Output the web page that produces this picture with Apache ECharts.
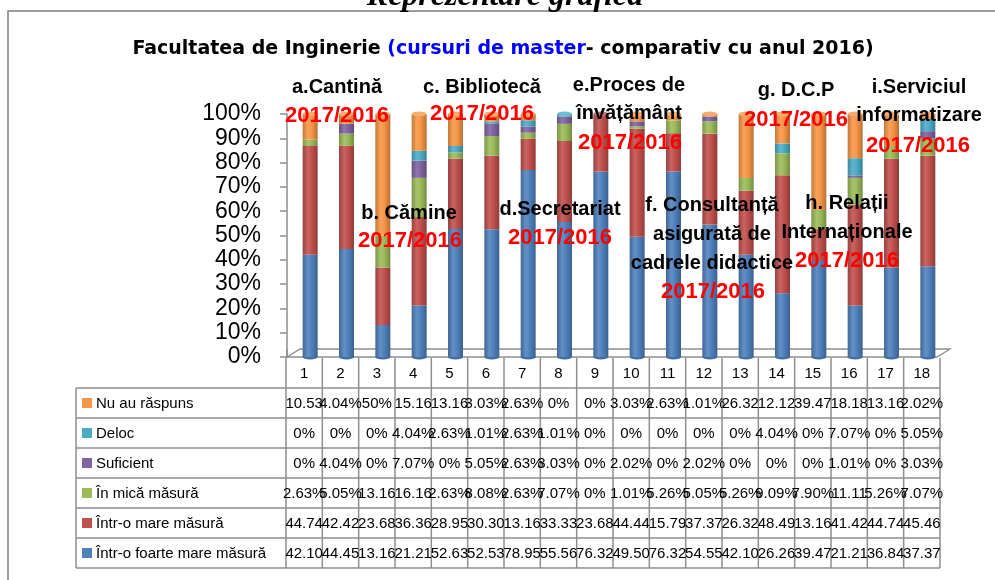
<!DOCTYPE html>
<html><head><meta charset="utf-8">
<script src="https://cdn.jsdelivr.net/npm/echarts@6/dist/echarts.min.js"></script>
<style>html,body{margin:0;padding:0;background:#fff}#c{width:995px;height:580px}</style>
</head><body><div id="c"></div>
<script>
// ---------- data ----------
const categories = ['1','2','3','4','5','6','7','8','9','10','11','12','13','14','15','16','17','18'];
const seriesNames = ['Într-o foarte mare măsură','Într-o mare măsură','În mică măsură','Suficient','Deloc','Nu au răspuns'];
const foarteMare = [42.10,44.45,13.16,21.21,52.63,52.53,78.95,55.56,76.32,49.50,76.32,54.55,42.10,26.26,39.47,21.21,36.84,37.37];
const mare       = [44.74,42.42,23.68,36.36,28.95,30.30,13.16,33.33,23.68,44.44,15.79,37.37,26.32,48.49,13.16,41.42,44.74,45.46];
const mica       = [2.63,5.05,13.16,16.16,2.63,8.08,2.63,7.07,0,1.01,5.26,5.05,5.26,9.09,7.90,11.11,5.26,7.07];
const suficient  = [0,4.04,0,7.07,0,5.05,2.63,3.03,0,2.02,0,2.02,0,0,0,1.01,0,3.03];
const deloc      = [0,0,0,4.04,2.63,1.01,2.63,1.01,0,0,0,0,0,4.04,0,7.07,0,5.05];
const nuAu       = [10.53,4.04,50,15.16,13.16,3.03,2.63,0,0,3.03,2.63,1.01,26.32,12.12,39.47,18.18,13.16,2.02];
const colors = ['#4F81BD','#C0504D','#9BBB59','#8064A2','#4BACC6','#F79646'];
const titleParts = ['Facultatea de Inginerie ','(cursuri de master','- comparativ cu anul 2016)'];
const topHeading = 'Reprezentare grafică';
const annotations = [
  {lines:['a.Cantină'], x:337, y:87, red:{x:337,y:116}},
  {lines:['b. Cămine'], x:409, y:213, red:{x:410,y:241}},
  {lines:['c. Bibliotecă'], x:482, y:87, red:{x:482,y:114}},
  {lines:['d.Secretariat'], x:560, y:209, red:{x:560,y:238}},
  {lines:['e.Proces de','învățământ'], x:629, y:85, step:28.5, red:{x:630,y:143}},
  {lines:['f. Consultanță','asigurată de','cadrele didactice'], x:712, y:205, step:29, red:{x:713,y:292}},
  {lines:['g. D.C.P'], x:796, y:90, red:{x:796,y:120}},
  {lines:['h. Relații','Internaționale'], x:847, y:203, step:29, red:{x:847,y:261}},
  {lines:['i.Serviciul','informatizare'], x:919, y:87, step:28, red:{x:918,y:146}}
];
const redLabel = '2017/2016';
// ---------------------------

const raw = [foarteMare, mare, mica, suficient, deloc, nuAu];
const sums = categories.map((c,i)=>raw.reduce((s,a)=>s+a[i],0));
const norm = raw.map(a=>a.map((v,i)=>v/sums[i]*100));

function shade(hex,f){
  let r=parseInt(hex.substr(1,2),16),g=parseInt(hex.substr(3,2),16),b=parseInt(hex.substr(5,2),16);
  if(f<0){r*=1+f;g*=1+f;b*=1+f;}else{r+=(255-r)*f;g+=(255-g)*f;b+=(255-b)*f;}
  return 'rgb('+Math.round(r)+','+Math.round(g)+','+Math.round(b)+')';
}
function cyl(c){
  return {type:'linear',x:0,y:0,x2:1,y2:0,colorStops:[
    {offset:0,color:shade(c,-0.2)},{offset:0.35,color:shade(c,0.12)},
    {offset:0.6,color:c},{offset:1,color:shade(c,-0.25)}]};
}
const FONT='"Liberation Sans", Arial, sans-serif';

const series = norm.map((d,k)=>({
  name:seriesNames[k], type:'bar', stack:'s', barWidth:15, data:d,
  itemStyle:{color:cyl(colors[k])}, silent:true
}));
const topColor = categories.map((c,i)=>{
  let k=5; while(k>0 && raw[k][i]===0) k--; return colors[k];
});
series.push({type:'pictorialBar', symbol:'circle', symbolSize:[15,5], symbolPosition:'end',
  symbolOffset:[0,'-50%'], barGap:'-100%', z:5, silent:true,
  data:categories.map((c,i)=>({value:100,itemStyle:{color:shade(topColor[i],0.2)}}))});
series.push({type:'pictorialBar', symbol:'circle', symbolSize:[15,5], symbolPosition:'start',
  symbolOffset:[0,'50%'], barGap:'-100%', z:1, silent:true,
  data:categories.map(()=>({value:1,itemStyle:{color:shade(colors[0],-0.15)}}))});

// ---------- graphics: frame, floor, table, texts ----------
const G=[];
const LC='#8E8E8E';
G.push({type:'rect',shape:{x:8,y:11,width:1000,height:600},style:{fill:'none',stroke:'#7F7F7F',lineWidth:1.5},silent:true});
G.push({type:'text',x:505,y:-3,style:{text:topHeading,font:'italic bold 32px "Liberation Serif", serif',fill:'#000',align:'center',verticalAlign:'middle'}});
G.push({type:'text',x:503,y:49,style:{
  text:'{a|'+titleParts[0]+'}{b|'+titleParts[1]+'}{a|'+titleParts[2]+'}',
  rich:{a:{fontFamily:'DejaVu Sans',fontWeight:'bold',fontSize:19,fill:'#000'},
        b:{fontFamily:'DejaVu Sans',fontWeight:'bold',fontSize:19,fill:'#0000FF'}},
  align:'center',verticalAlign:'middle'}});
// floor
G.push({type:'polyline',shape:{points:[[287,357],[300,349],[950,349],[937,357],[287,357]]},style:{stroke:LC,lineWidth:1.3,fill:'#fff'},z:0});
// table
const tx0=286, tw=654, cw=tw/categories.length, ty0=358, hh=30, rh=30, lx=76;
const rowOrder=[5,4,3,2,1,0];
const tableTop=ty0+hh, tableBot=tableTop+rh*rowOrder.length;
for(let i=0;i<=categories.length;i++){
  G.push({type:'line',shape:{x1:tx0+i*cw,y1:ty0,x2:tx0+i*cw,y2:tableBot},style:{stroke:LC,lineWidth:1.5}});
}
G.push({type:'line',shape:{x1:lx,y1:tableTop,x2:lx,y2:tableBot},style:{stroke:LC,lineWidth:1.5}});
for(let r=0;r<=rowOrder.length;r++){
  G.push({type:'line',shape:{x1:lx,y1:tableTop+r*rh,x2:tx0+tw,y2:tableTop+r*rh},style:{stroke:LC,lineWidth:1.5}});
}
categories.forEach((c,i)=>{
  G.push({type:'text',x:tx0+cw*(i+0.5),y:ty0+hh/2+1,style:{text:c,font:'15px '+FONT,fill:'#000',align:'center',verticalAlign:'middle'}});
});
function fmt(v){
  if(Math.round(v)===v) return v+'%';
  return v<10 ? v.toFixed(2)+'%' : v.toFixed(2);
}
rowOrder.forEach((k,r)=>{
  const yc=tableTop+r*rh+rh/2;
  G.push({type:'rect',shape:{x:82,y:yc-5,width:10,height:10},style:{fill:colors[k]}});
  G.push({type:'text',x:96,y:yc+1,style:{text:seriesNames[k],font:'15px '+FONT,fill:'#000',align:'left',verticalAlign:'middle'}});
  raw[k].forEach((v,i)=>{
    G.push({type:'text',x:tx0+cw*(i+0.5),y:yc+1,style:{text:fmt(v),font:'15px '+FONT,fill:'#000',align:'center',verticalAlign:'middle'}});
  });
});
// axis continuation below floor
G.push({type:'line',shape:{x1:287,y1:349,x2:287,y2:ty0},style:{stroke:LC,lineWidth:1.5}});
// annotations
annotations.forEach(a=>{
  a.lines.forEach((t,j)=>{
    G.push({type:'text',x:a.x,y:a.y+j*(a.step||0),z:50,style:{text:t,font:'bold 20px '+FONT,fill:'#000',align:'center',verticalAlign:'middle'}});
  });
  G.push({type:'text',x:a.red.x,y:a.red.y,z:51,style:{text:redLabel,font:'bold 22px '+FONT,fill:'#FF0000',align:'center',verticalAlign:'middle'}});
});

const chart = echarts.init(document.getElementById('c'),null,{renderer:'canvas'});
chart.setOption({
  animation:false,
  backgroundColor:'#fff',
  grid:{left:292,top:114,width:654,height:243},
  xAxis:{type:'category',data:categories,show:false},
  yAxis:{type:'value',min:0,max:100,interval:10,offset:5,
    axisLine:{show:true,lineStyle:{color:LC,width:1.5}},
    axisTick:{show:true,length:7,lineStyle:{color:LC,width:1.5}},
    axisLabel:{formatter:'{value}%',fontSize:23,fontFamily:'Liberation Sans',color:'#000',margin:26},
    splitLine:{show:false}},
  series:series,
  graphic:{elements:G}
});
</script></body></html>
